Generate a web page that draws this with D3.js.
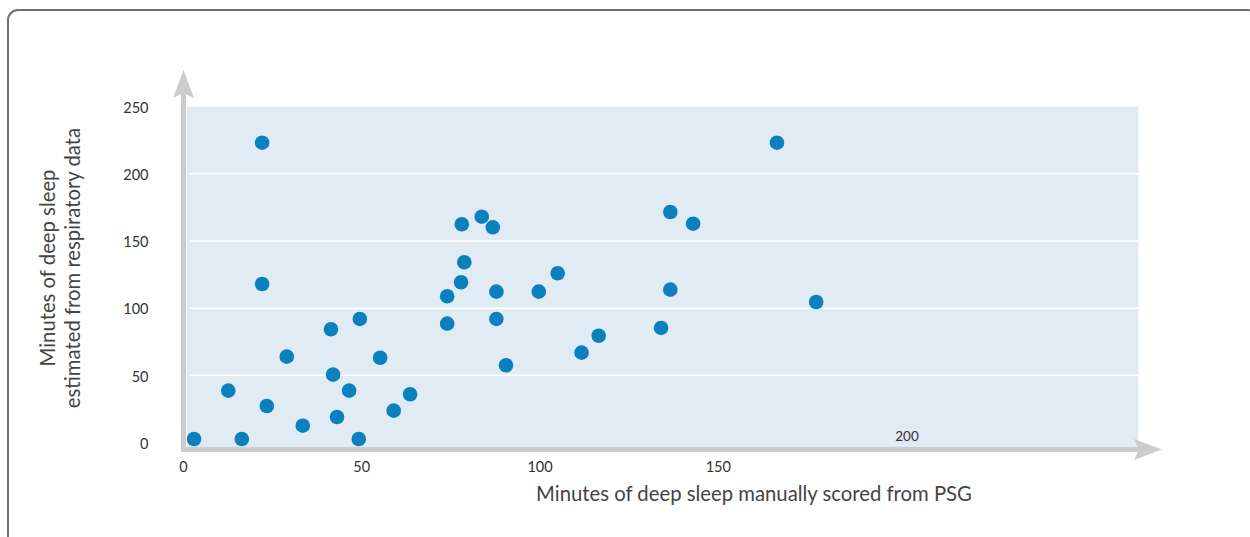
<!DOCTYPE html>
<html>
<head>
<meta charset="utf-8">
<script src="https://cdn.jsdelivr.net/npm/d3@7"></script>
<style>
  html, body { margin: 0; padding: 0; background: #fff; }
  svg { display: block; font-family: Lato, "Open Sans", sans-serif; }
</style>
</head>
<body>
<div id="chart"></div>
<script>
// minutes of deep sleep: PSG (x) vs respiratory estimate (y)
const psgMinutes = [3.1, 12.7, 16.5, 22.2, 22.2, 23.5, 29.1, 33.6, 41.5, 42.1, 43.2, 46.6, 49.3,
  49.6, 55.3, 59.1, 63.7, 74.1, 74.1, 78.2, 78.0, 78.9, 83.8, 86.9, 87.9, 87.9, 90.6, 99.8,
  105.1, 111.8, 116.6, 134.1, 136.7, 136.7, 143.1, 166.6, 177.6];
const respMinutes = [2.6, 38.6, 2.6, 223.2, 118.0, 27.2, 63.9, 12.5, 84.3, 50.5, 19.0, 38.6, 2.6,
  92.0, 63.1, 23.7, 35.9, 108.9, 88.5, 162.5, 119.3, 134.2, 168.1, 160.2, 112.3, 92.0, 57.5, 112.3,
  126.0, 66.9, 79.5, 85.3, 171.6, 113.8, 162.9, 223.2, 104.6];
const xTicks = [0, 50, 100, 150];
const yTicks = [0, 50, 100, 150, 200, 250];
const gridTicks = [50, 100, 150, 200];

const width = 1250, height = 537;
const points = psgMinutes.map((v, i) => ({ x: v, y: respMinutes[i] }));

const svg = d3.select("#chart").append("svg")
    .attr("width", width)
    .attr("height", height);

// outer frame, only the top-left corner is visible
svg.append("rect")
    .attr("x", 8).attr("y", 10)
    .attr("width", 1250).attr("height", 600)
    .attr("rx", 10)
    .attr("fill", "none")
    .attr("stroke", "#6f6f6f")
    .attr("stroke-width", 2);

const x = d3.scaleLinear().domain([0, 200]).range([183, 896]);
const y = d3.scaleLinear().domain([0, 250]).range([442.5, 106.7]);
const xEnd = 268; // background runs past the last tick

// plot background
svg.append("rect")
    .attr("x", x(0) + 4)
    .attr("y", y(250))
    .attr("width", x(xEnd) - x(0) - 4)
    .attr("height", 449 - y(250))
    .attr("fill", "#e1ebf4");

// white grid lines
svg.append("g")
    .selectAll("line")
    .data(gridTicks)
    .join("line")
    .attr("x1", x(0) + 7)
    .attr("x2", x(xEnd))
    .attr("y1", d => y(d))
    .attr("y2", d => y(d))
    .attr("stroke", "#fff")
    .attr("stroke-width", 1.5);

// axis lines with arrowheads
const axisColor = "#cccccc";
const axisY = 449.5, axisX = 183.5;
svg.append("line")
    .attr("x1", axisX).attr("x2", axisX)
    .attr("y1", axisY + 2.5).attr("y2", 92)
    .attr("stroke", axisColor).attr("stroke-width", 5);
svg.append("path")
    .attr("d", `M${axisX},70 L${axisX + 10.5},98 L${axisX},93 L${axisX - 10.5},98 Z`)
    .attr("fill", axisColor);
svg.append("line")
    .attr("x1", axisX - 2.5).attr("x2", 1141)
    .attr("y1", axisY).attr("y2", axisY)
    .attr("stroke", axisColor).attr("stroke-width", 5);
svg.append("path")
    .attr("d", `M1162,${axisY} L1134,${axisY - 10.5} L1139,${axisY} L1134,${axisY + 10.5} Z`)
    .attr("fill", axisColor);

// tick labels
const yAxis = svg.append("g")
    .attr("transform", `translate(${axisX},0)`)
    .call(d3.axisLeft(y).tickValues(yTicks).tickSize(0).tickPadding(35));
yAxis.select(".domain").remove();
yAxis.selectAll("text")
    .attr("fill", "#333")
    .style("font-size", "14.5px")
    .style("font-family", "Lato, sans-serif")
    .attr("dy", "0.4em");

const xAxis = svg.append("g")
    .attr("transform", `translate(0,${axisY})`)
    .call(d3.axisBottom(x).tickValues(xTicks).tickSize(0).tickPadding(12));
xAxis.select(".domain").remove();
xAxis.selectAll("text")
    .attr("fill", "#333")
    .style("font-size", "14.5px")
    .style("font-family", "Lato, sans-serif");

// the 200 tick sits above the axis in the original
svg.append("text")
    .attr("x", x(200) + 11)
    .attr("y", 441)
    .attr("text-anchor", "middle")
    .attr("fill", "#333")
    .style("font-size", "13.5px")
    .text("200");

// data points
svg.append("g")
    .selectAll("circle")
    .data(points)
    .join("circle")
    .attr("cx", d => x(d.x))
    .attr("cy", d => y(d.y))
    .attr("r", 7.3)
    .attr("fill", "#0a80bf");

// axis titles
svg.append("text")
    .attr("x", 754)
    .attr("y", 501)
    .attr("text-anchor", "middle")
    .attr("fill", "#444")
    .style("font-size", "20.3px")
    .text("Minutes of deep sleep manually scored from PSG");

const yTitle = svg.append("text")
    .attr("transform", "translate(0,268) rotate(-90)")
    .attr("text-anchor", "middle")
    .attr("fill", "#444")
    .style("font-size", "20.3px");
yTitle.append("tspan").attr("x", 0).attr("y", 55).text("Minutes of deep sleep");
yTitle.append("tspan").attr("x", 0).attr("y", 80).text("estimated from respiratory data");
</script>
</body>
</html>
